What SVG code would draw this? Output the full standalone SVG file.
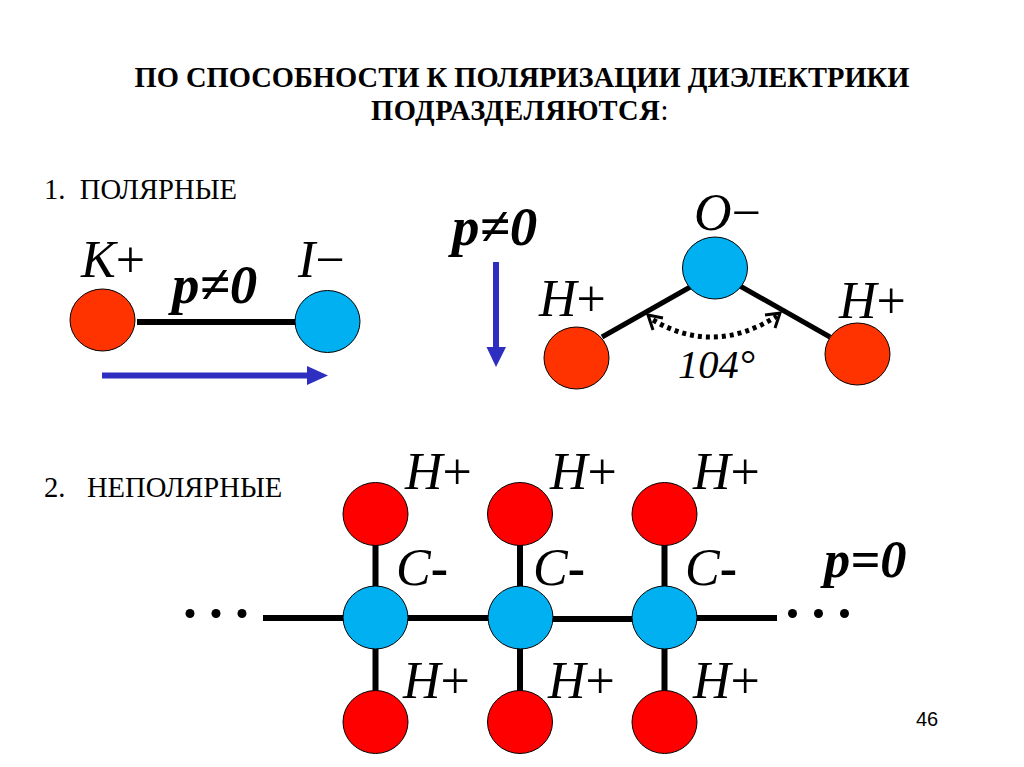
<svg xmlns="http://www.w3.org/2000/svg" width="1024" height="767" viewBox="0 0 1024 767">
<defs>
<style>
text{font-family:"Liberation Serif","Times New Roman",serif;fill:#000}
.title{font-size:28.500px;font-weight:bold;text-anchor:middle}
.head{font-size:28.600px}
.atom{font-size:52px;font-style:italic}
.plain{font-style:normal}
.minus{font-style:normal;font-weight:bold}
.p{font-size:55px;font-style:italic;font-weight:bold}
.p0{font-size:52.500px;font-style:italic;font-weight:bold}
.ang{font-size:40.500px;font-style:italic}
.num{font-family:"Liberation Sans",Arial,sans-serif;font-size:20px}
.bond{stroke:#000;stroke-width:6;fill:none}
.thin{stroke-width:5}
.orange{fill:#ff3300;stroke:#000;stroke-width:1}
.red{fill:#ff0000;stroke:#000;stroke-width:1}
.blue{fill:#00b0f0;stroke:#000;stroke-width:1}
.vec{stroke:#2e2ec0;stroke-width:6;fill:none}
.head-fill{fill:#2e2ec0}
.arc{fill:none;stroke:#000;stroke-width:5;stroke-dasharray:4 4}
.tip{fill:none;stroke:#000;stroke-width:3}
</style>
</defs>
<rect width="1024" height="767" fill="#fff"/>
<text class="title" x="522" y="87">ПО СПОСОБНОСТИ К ПОЛЯРИЗАЦИИ ДИЭЛЕКТРИКИ</text>
<text class="title" x="520" y="120" letter-spacing="0.600">ПОДРАЗДЕЛЯЮТСЯ<tspan font-weight="normal">:</tspan></text>
<text class="head" x="44" y="199" xml:space="preserve">1.  ПОЛЯРНЫЕ</text>
<text class="head" x="44" y="497" xml:space="preserve">2.   НЕПОЛЯРНЫЕ</text>

<g id="connectors">
<line class="bond" x1="137" y1="322" x2="298" y2="322"/>
<line class="vec" x1="102" y1="375.500" x2="310" y2="375.500"/>
<path class="head-fill" d="M307 366 L328 375.500 L307 385Z"/>
<line class="vec" x1="496" y1="262" x2="496" y2="349"/>
<path class="head-fill" d="M486.500 347 L506 347 L496 367Z"/>
<line class="bond thin" x1="602" y1="337" x2="692" y2="286"/>
<line class="bond thin" x1="740" y1="286" x2="830" y2="337"/>
<path class="arc" d="M653 320 Q714 356 777 316"/>
<path class="tip" d="M663 318 L648 315 L653 330"/>
<path class="tip" d="M765 315 L780 313 L775 328"/>
<line class="bond" x1="263" y1="618" x2="520" y2="618"/>
<line class="bond" x1="520" y1="619" x2="640" y2="619"/>
<line class="bond" x1="640" y1="618" x2="777" y2="618"/>
<line class="bond" x1="375.500" y1="540" x2="375.500" y2="700"/>
<line class="bond" x1="520" y1="540" x2="520" y2="700"/>
<line class="bond" x1="664.500" y1="540" x2="664.500" y2="700"/>
<g fill="#000">
<circle cx="190" cy="613.500" r="4.500"/><circle cx="216" cy="613.500" r="4.500"/><circle cx="242" cy="613.500" r="4.500"/>
<circle cx="792.500" cy="613.500" r="4.500"/><circle cx="818.500" cy="613.500" r="4.500"/><circle cx="844.500" cy="613.500" r="4.500"/>
</g>
</g>

<g id="node-k"><ellipse class="orange" cx="102.500" cy="320" rx="32.500" ry="31"/><text class="atom" x="81" y="277">K<tspan class="plain">+</tspan></text></g>
<g id="node-i"><ellipse class="blue" cx="327.500" cy="321.500" rx="32.500" ry="31"/><text class="atom" x="298" y="277">I<tspan class="plain">−</tspan></text></g>
<text class="p" x="172" y="303">p≠0</text>
<text class="p" x="452" y="245">p≠0</text>

<g id="node-o"><ellipse class="blue" cx="715" cy="268" rx="32.500" ry="31"/><text class="atom" x="694" y="230">O<tspan class="plain">−</tspan></text></g>
<g id="node-h-left"><ellipse class="orange" cx="576.500" cy="358" rx="32.500" ry="31"/><text class="atom" x="539" y="316">H<tspan class="plain">+</tspan></text></g>
<g id="node-h-right"><ellipse class="orange" cx="857.500" cy="354" rx="32.500" ry="31"/><text class="atom" x="839" y="318">H<tspan class="plain">+</tspan></text></g>
<text class="ang" x="678" y="378">104°</text>

<g id="node-h1"><ellipse class="red" cx="375.500" cy="514" rx="32.500" ry="31.500"/><text class="atom" x="405" y="489">H<tspan class="plain">+</tspan></text></g>
<g id="node-h2"><ellipse class="red" cx="520" cy="514" rx="32.500" ry="31.500"/><text class="atom" x="550" y="489">H<tspan class="plain">+</tspan></text></g>
<g id="node-h3"><ellipse class="red" cx="664.500" cy="514" rx="32.500" ry="31.500"/><text class="atom" x="693" y="489">H<tspan class="plain">+</tspan></text></g>
<g id="node-c1"><ellipse class="blue" cx="375.500" cy="617.500" rx="32.500" ry="31.500"/><text class="atom" x="396" y="585">C<tspan class="minus">-</tspan></text></g>
<g id="node-c2"><ellipse class="blue" cx="520.500" cy="617.500" rx="32.500" ry="31.500"/><text class="atom" x="533" y="585">C<tspan class="minus">-</tspan></text></g>
<g id="node-c3"><ellipse class="blue" cx="664.500" cy="617.500" rx="32.500" ry="31.500"/><text class="atom" x="685" y="585">C<tspan class="minus">-</tspan></text></g>
<g id="node-h4"><ellipse class="red" cx="375.500" cy="722" rx="32.500" ry="31.500"/><text class="atom" x="403" y="698">H<tspan class="plain">+</tspan></text></g>
<g id="node-h5"><ellipse class="red" cx="520" cy="722" rx="32.500" ry="31.500"/><text class="atom" x="548" y="698">H<tspan class="plain">+</tspan></text></g>
<g id="node-h6"><ellipse class="red" cx="664.500" cy="722" rx="32.500" ry="31.500"/><text class="atom" x="693" y="698">H<tspan class="plain">+</tspan></text></g>
<text class="p0" x="824" y="577">p=0</text>
<text class="num" x="916" y="726">46</text>
</svg>
